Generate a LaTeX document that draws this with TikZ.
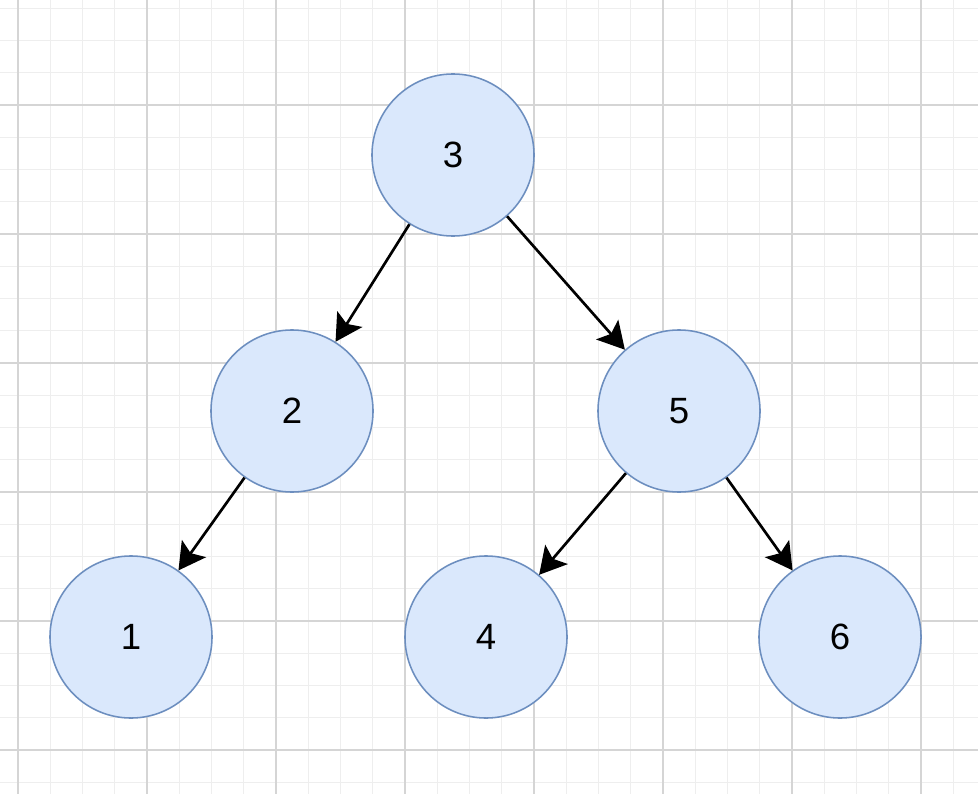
\documentclass[tikz,border=0pt]{standalone}
\usepackage{fontspec}
\setmainfont{Liberation Sans}
\usepackage{tikz}
\definecolor{knotfill}{HTML}{DAE8FC}
\definecolor{knotline}{HTML}{6C8EBF}
\definecolor{gridminor}{HTML}{EEEEEE}
\definecolor{gridmajor}{HTML}{D5D5D5}
\usetikzlibrary{arrows.meta}

\begin{document}
\begin{tikzpicture}[x=0.025cm, y=-0.025cm,
			>={Stealth[length=19pt, width=21pt, inset=4pt]},   %Pfeilspitzen
			knot/.style={circle, draw=knotline, fill=knotfill, line width=1.1pt, minimum size=4.05cm, inner sep=0pt, font=\fontsize{26}{30}\selectfont},
			edge/.style={->, line width=1.9pt, black}]
			\useasboundingbox (0,0) rectangle (978,794);
			\fill[white] (0,0) rectangle (978,794);
			%Raster zeichnen
			\begin{scope}
				\clip (0,0) rectangle (978,794);
				\foreach \i in {-1,...,30} \draw[gridminor, line width=1pt] (18+32.25*\i,0) -- (18+32.25*\i,794);
				\foreach \j in {-4,...,22} \draw[gridminor, line width=1pt] (0,105+32.25*\j) -- (978,105+32.25*\j);
				\foreach \i in {0,...,7} \draw[gridmajor, line width=0.9pt] (18+129*\i,0) -- (18+129*\i,794);
				\foreach \j in {0,...,5} \draw[gridmajor, line width=0.9pt] (0,105+129*\j) -- (978,105+129*\j);
			\end{scope}
			% Knoten
			\node[knot] (k3) at (453,155) {3};
			\node[knot] (k2) at (292,411) {2};
			\node[knot] (k5) at (679,411) {5};
			\node[knot] (k1) at (131,637) {1};
			\node[knot] (k4) at (486,637) {4};
			\node[knot] (k6) at (840,637) {6};
			% Kanten
			\draw[edge] (k3) -- (k2);
			\draw[edge] (k3) -- (k5);
			\draw[edge] (k2) -- (k1);
			\draw[edge] (k5) -- (k4);
			\draw[edge] (k5) -- (k6);
		\end{tikzpicture}
\end{document}
